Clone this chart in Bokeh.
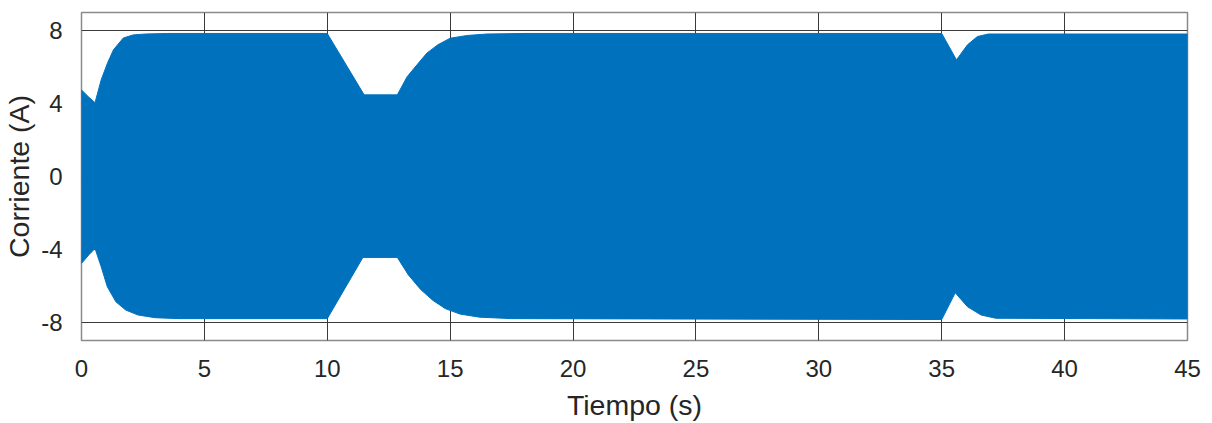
from bokeh.plotting import figure
from bokeh.models import Range1d, FixedTicker
from bokeh.embed import file_html
from bokeh.resources import INLINE

# Envelope of the current signal
t_upper = [0, 0.3, 0.55, 0.8, 1.05, 1.3, 1.7, 2.1, 2.6, 3.5, 10.0, 11.5, 12.85,
           13.25, 13.65, 14.05, 14.5, 15.0, 15.7, 16.5, 18.0, 35.0, 35.6, 36.05,
           36.45, 36.9, 45.0]
i_upper = [4.75, 4.35, 4.05, 5.3, 6.2, 6.95, 7.6, 7.77, 7.82, 7.85, 7.85, 4.48, 4.48,
           5.48, 6.13, 6.77, 7.23, 7.59, 7.74, 7.82, 7.85, 7.85, 6.4, 7.23,
           7.68, 7.82, 7.82]
t_lower = [0, 0.3, 0.55, 0.8, 1.05, 1.4, 1.8, 2.3, 3.0, 4.0, 10.0, 11.45, 12.85,
           13.3, 13.8, 14.3, 14.8, 15.4, 16.2, 17.5, 35.0, 35.55, 36.05, 36.6,
           37.2, 45.0]
i_lower = [-4.77, -4.3, -3.95, -4.95, -6.05, -6.88, -7.33, -7.6, -7.75, -7.8, -7.8,
           -4.44, -4.44, -5.4, -6.2, -6.8, -7.25, -7.55, -7.72, -7.8, -7.85, -6.38,
           -7.15, -7.6, -7.78, -7.82]

x_ticks = [0, 5, 10, 15, 20, 25, 30, 35, 40, 45]
y_ticks = [-8, -4, 0, 4, 8]
y_tick_labels = {-8: "-8", -4: "-4", 0: "0", 4: "4", 8: "8"}

FONT = "Liberation Sans"
TXT = "#262626"
BLUE = "#0072BD"

p = figure(width=1204, height=423, output_backend="svg", toolbar_location=None,
           x_range=Range1d(0, 45), y_range=Range1d(-9, 9),
           min_border_left=81, min_border_right=17, min_border_top=12,
           min_border_bottom=83)

# one closed band: upper envelope forward, lower envelope backward
band_x = t_upper + t_lower[::-1]
band_y = i_upper + i_lower[::-1]
p.patch(band_x, band_y, fill_color=BLUE, fill_alpha=1.0, line_color=BLUE, line_width=1)

p.xaxis.ticker = FixedTicker(ticks=x_ticks)
p.yaxis.ticker = FixedTicker(ticks=y_ticks)
p.yaxis.major_label_overrides = y_tick_labels

for ax in (p.xaxis, p.yaxis):
    ax.axis_line_color = None
    ax.major_tick_line_color = None
    ax.minor_tick_line_color = None
    ax.major_label_text_font = FONT
    ax.major_label_text_font_size = "24px"
    ax.major_label_text_color = TXT
    ax.axis_label_text_font = FONT
    ax.axis_label_text_font_size = "28.5px"
    ax.axis_label_text_font_style = "normal"
    ax.axis_label_text_color = TXT

p.xaxis.axis_label = "Tiempo (s)"
p.yaxis.axis_label = "Corriente (A)"
p.xaxis.major_label_standoff = 13
p.yaxis.major_label_standoff = 13
p.xaxis.axis_label_standoff = 9
p.yaxis.axis_label_standoff = 3

p.xgrid.grid_line_color = "#3a3a3a"
p.ygrid.grid_line_color = "#3a3a3a"
p.xgrid.grid_line_width = 1
p.ygrid.grid_line_width = 1
p.xgrid.level = "underlay"
p.ygrid.level = "underlay"

p.outline_line_color = "#8a8a8a"
p.outline_line_width = 1.5
p.background_fill_color = "white"
p.border_fill_color = "white"

open("out.html", "w").write(file_html(p, INLINE))
